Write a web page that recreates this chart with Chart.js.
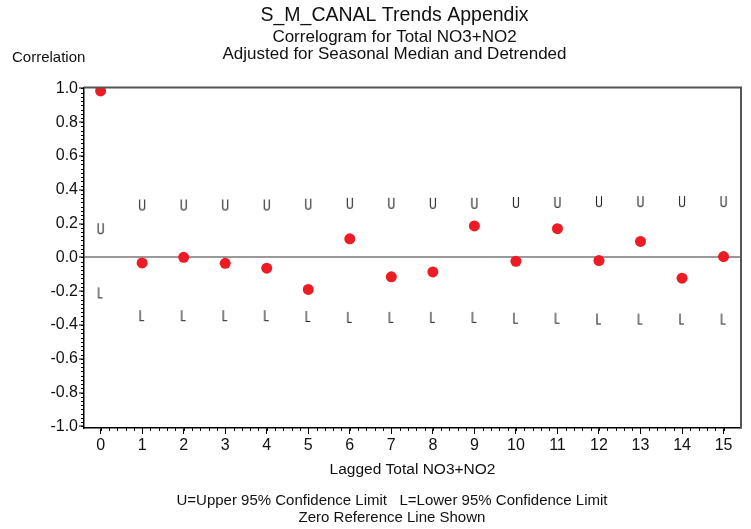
<!DOCTYPE html>
<html>
<head>
<meta charset="utf-8">
<script src="https://cdn.jsdelivr.net/npm/chart.js@4/dist/chart.umd.min.js"></script>
<style>
  html, body { margin: 0; padding: 0; background: #fff; }
  #chart { display: block; }
</style>
</head>
<body>
<canvas id="chart" width="751" height="529"></canvas>
<script>
// values
const lags = [0, 1, 2, 3, 4, 5, 6, 7, 8, 9, 10, 11, 12, 13, 14, 15];
const correlation = [0.985, -0.033, 0.0, -0.035, -0.064, -0.19, 0.11, -0.115, -0.086, 0.186, -0.023, 0.17, -0.019, 0.094, -0.123, 0.005];
const upperLimit = [0.17, 0.31, 0.31, 0.31, 0.31, 0.315, 0.32, 0.32, 0.32, 0.32, 0.325, 0.325, 0.33, 0.33, 0.33, 0.33];
const lowerLimit = [-0.21, -0.345, -0.345, -0.345, -0.345, -0.35, -0.355, -0.355, -0.355, -0.355, -0.36, -0.36, -0.365, -0.365, -0.365, -0.365];
const yTicks = [-1.0, -0.8, -0.6, -0.4, -0.2, 0.0, 0.2, 0.4, 0.6, 0.8, 1.0];

const FONT = "'Liberation Sans', Arial, sans-serif";
const TEXT = "#111";

// small canvases holding the U / L letters used as point markers
function letterMarker(letter) {
    const c = document.createElement("canvas");
    c.width = 8;
    c.height = 13;
    const g = c.getContext("2d");
    g.strokeStyle = "#222";
    g.lineWidth = 1.1;
    g.beginPath();
    if (letter === "U") {
        g.moveTo(1.5, 1);
        g.lineTo(1.5, 9);
        g.arc(4, 9, 2.5, Math.PI, 0, true);
        g.lineTo(6.5, 1);
    } else {
        g.moveTo(2, 1);
        g.lineTo(2, 11.5);
        g.lineTo(6, 11.5);
    }
    g.stroke();
    return c;
}

const toPoints = (values) => values.map((v, i) => ({ x: lags[i], y: v }));

const extras = {
    id: "extras",
    afterDraw(chart) {
        const { ctx, chartArea: a, scales } = chart;
        ctx.save();
        // top and right frame
        ctx.strokeStyle = "#555";
        ctx.lineWidth = 2;
        ctx.beginPath();
        ctx.moveTo(a.left, a.top);
        ctx.lineTo(a.right, a.top);
        ctx.lineTo(a.right, a.bottom);
        ctx.stroke();

        // minor ticks
        ctx.strokeStyle = "#000";
        ctx.lineWidth = 1;
        ctx.beginPath();
        for (let v = -1.0; v <= 1.0001; v += 0.025) {
            const y = Math.round(scales.y.getPixelForValue(v)) + 0.5;
            ctx.moveTo(a.left, y);
            ctx.lineTo(a.left - 3, y);
        }
        for (let v = 0; v <= 15.0001; v += 0.2) {
            const x = Math.round(scales.x.getPixelForValue(v)) + 0.5;
            ctx.moveTo(x, a.bottom);
            ctx.lineTo(x, a.bottom + 3);
        }
        ctx.stroke();

        ctx.fillStyle = TEXT;
        ctx.font = "15px " + FONT;
        ctx.textAlign = "left";
        ctx.textBaseline = "middle";
        ctx.fillText("Correlation", 12, 58);

        ctx.textAlign = "center";
        ctx.fillText("U=Upper 95% Confidence Limit   L=Lower 95% Confidence Limit", 392, 501);
        ctx.fillText("Zero Reference Line Shown", 392, 518);
        ctx.restore();
    },
};

new Chart(document.getElementById("chart"), {
    type: "scatter",
    data: {
        datasets: [
            {
                label: "Upper",
                data: toPoints(upperLimit),
                pointStyle: letterMarker("U"),
            },
            {
                label: "Lower",
                data: toPoints(lowerLimit),
                pointStyle: letterMarker("L"),
            },
            {
                label: "Correlation",
                data: toPoints(correlation),
                pointRadius: 5.5,
                pointBackgroundColor: "#ed1c24",
                pointBorderColor: "#ed1c24",
                pointBorderWidth: 0,
            },
        ],
    },
    options: {
        responsive: false,
        animation: false,
        devicePixelRatio: 1,
        layout: {
            padding: { left: 48, right: 10, top: 0, bottom: 50 },
        },
        plugins: {
            legend: { display: false },
            tooltip: { enabled: false },
            title: {
                display: true,
                text: "S_M_CANAL Trends Appendix",
                color: TEXT,
                font: { family: FONT, size: 19.5, weight: "normal", lineHeight: 1.2 },
                padding: { top: 4, bottom: 0 },
            },
            subtitle: {
                display: true,
                text: ["Correlogram for Total NO3+NO2", "Adjusted for Seasonal Median and Detrended"],
                color: TEXT,
                font: { family: FONT, size: 17, weight: "normal", lineHeight: 1.0 },
                padding: { top: 1, bottom: 25 },
            },
        },
        scales: {
            x: {
                type: "linear",
                min: -0.4,
                max: 15.42,
                afterBuildTicks: (scale) => {
                    scale.ticks = lags.map((v) => ({ value: v }));
                },
                afterFit: (scale) => {
                    scale.height = 51;
                },
                ticks: {
                    color: TEXT,
                    font: { family: FONT, size: 16 },
                    padding: 2,
                },
                grid: {
                    drawOnChartArea: false,
                    tickLength: 6,
                    tickColor: "#000",
                },
                border: { color: "#000", width: 1.5 },
                title: {
                    display: true,
                    text: "Lagged Total NO3+NO2",
                    color: TEXT,
                    font: { family: FONT, size: 15.5 },
                    padding: { top: 8, bottom: 0 },
                },
            },
            y: {
                type: "linear",
                min: -1.01,
                max: 1.006,
                afterBuildTicks: (scale) => {
                    scale.ticks = yTicks.map((v) => ({ value: v }));
                },
                afterFit: (scale) => {
                    scale.width = 36;
                },
                ticks: {
                    color: TEXT,
                    font: { family: FONT, size: 16 },
                    padding: 1,
                    callback: (v) => Number(v).toFixed(1),
                },
                grid: {
                    drawOnChartArea: true,
                    color: (c) => (c.tick && c.tick.value === 0 ? "#999" : "rgba(0,0,0,0)"),
                    lineWidth: 2,
                    tickLength: 5,
                    tickColor: "#000",
                    tickWidth: 1,
                },
                border: { color: "#000", width: 1.5 },
            },
        },
    },
    plugins: [extras],
});
</script>
</body>
</html>
